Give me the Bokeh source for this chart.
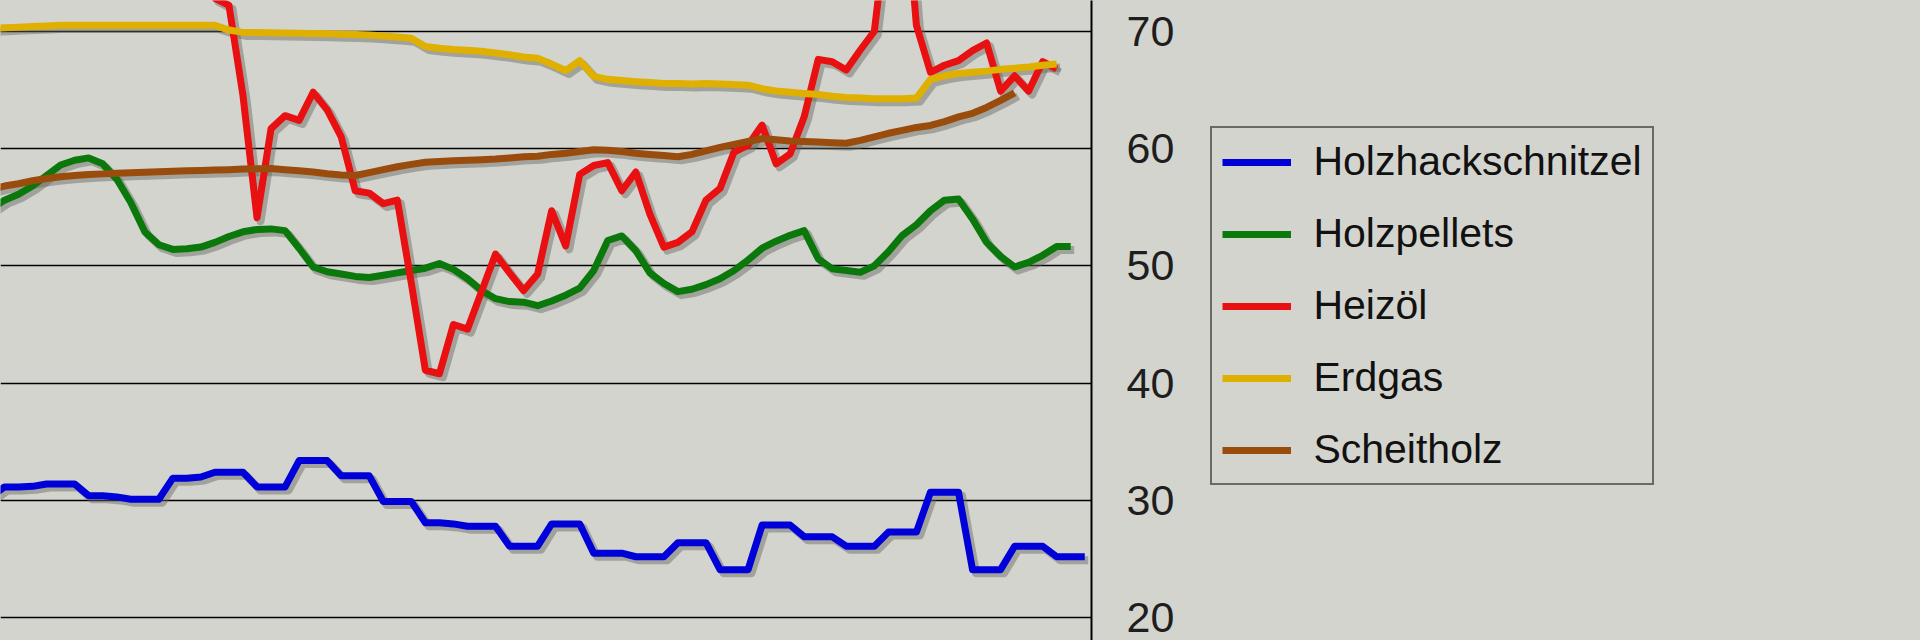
from bokeh.plotting import figure
from bokeh.models import Range1d, FixedTicker, Legend, LegendItem
from bokeh.embed import file_html
from bokeh.resources import INLINE

# month index (x positions), one point per month
blue_start = -1
blue_vals = [30.3,
             31.15, 31.15, 31.2, 31.4, 31.4, 31.4, 30.4, 30.4, 30.3, 30.1, 30.1, 30.1,
             31.9, 31.9, 32.0, 32.4, 32.4, 32.4, 31.15, 31.15, 31.15, 33.4, 33.4, 33.4,
             32.1, 32.1, 32.1, 29.9, 29.9, 29.9, 28.1, 28.1, 28.0, 27.8, 27.8, 27.8,
             26.1, 26.1, 26.1, 28.0, 28.0, 28.0, 25.5, 25.5, 25.5, 25.2, 25.2, 25.2,
             26.4, 26.4, 26.4, 24.1, 24.1, 24.1, 27.9, 27.9, 27.9, 26.9, 26.9, 26.9,
             26.1, 26.1, 26.1, 27.3, 27.3, 27.3, 30.7, 30.7, 30.7, 24.1, 24.1, 24.1,
             26.1, 26.1, 26.1, 25.2, 25.2, 25.2]

green_start = -1
green_vals = [54.8, 55.6, 56.1, 56.8, 57.7, 58.6, 59.0, 59.2, 58.7, 57.4, 55.4, 52.9,
              51.8, 51.4, 51.45, 51.6, 52.0, 52.5, 52.9, 53.1, 53.15, 53.0, 51.5, 49.9,
              49.5, 49.3, 49.1, 49.0, 49.2, 49.4, 49.6, 49.8, 50.2, 49.7, 48.9, 47.9,
              47.2, 46.95, 46.9, 46.6, 47.0, 47.5, 48.1, 49.6, 52.16, 52.55, 51.3, 49.4,
              48.5, 47.8, 48.0, 48.4, 48.9, 49.6, 50.5, 51.5, 52.1, 52.6, 53.0, 50.6,
              49.75, 49.6, 49.45, 50.0, 51.2, 52.6, 53.5, 54.7, 55.6, 55.7, 54.0, 52.0,
              50.8, 49.9, 50.3, 50.9, 51.65, 51.65]

gas_start = -1
gas_vals = [70.25, 70.3, 70.35, 70.4, 70.45, 70.5, 70.5, 70.5, 70.5, 70.5, 70.5, 70.5,
            70.5, 70.5, 70.5, 70.5, 70.5, 70.1, 69.9, 69.9, 69.88, 69.85, 69.82, 69.8,
            69.78, 69.75, 69.72, 69.68, 69.6, 69.5, 69.4, 68.7, 68.55, 68.45, 68.38, 68.3,
            68.15, 68.0, 67.8, 67.7, 67.2, 66.65, 67.5, 66.15, 65.9, 65.8, 65.7, 65.62,
            65.55, 65.55, 65.5, 65.55, 65.5, 65.45, 65.4, 65.1, 64.9, 64.8, 64.7, 64.6,
            64.45, 64.35, 64.3, 64.25, 64.25, 64.25, 64.3, 65.9, 66.2, 66.4, 66.5, 66.6,
            66.75, 66.85, 66.95, 67.1, 67.2]

wood_start = -1
wood_vals = [56.5, 56.8, 57.0, 57.25, 57.45, 57.6, 57.7, 57.78, 57.84, 57.9, 57.94, 57.98,
             58.02, 58.06, 58.1, 58.13, 58.17, 58.2, 58.25, 58.27, 58.3, 58.2, 58.1, 58.0,
             57.85, 57.75, 57.7, 57.95, 58.2, 58.45, 58.65, 58.83, 58.9, 58.95, 59.0, 59.05,
             59.1, 59.2, 59.3, 59.35, 59.5, 59.6, 59.75, 59.9, 59.85, 59.75, 59.6, 59.5,
             59.4, 59.3, 59.5, 59.8, 60.1, 60.35, 60.6, 60.85, 60.75, 60.65, 60.6, 60.55,
             60.5, 60.45, 60.7, 61.0, 61.3, 61.55, 61.8, 61.97, 62.3, 62.7, 63.0, 63.5,
             64.1, 64.75]

oil_start = 14
oil_vals = [75.0, 72.8, 72.2, 64.5, 54.1, 61.7, 62.8, 62.4, 64.8, 63.3, 61.0, 56.4,
            56.2, 55.3, 55.6, 48.5, 41.1, 40.8, 45.0, 44.6, 47.8, 51.0, 49.4, 47.9,
            49.3, 54.7, 51.7, 57.8, 58.55, 58.8, 56.4, 58.0, 54.4, 51.6, 52.0, 52.9,
            55.6, 56.6, 59.7, 60.3, 62.0, 58.7, 59.55, 62.7, 67.6, 67.4, 66.7, 68.4,
            70.0, 80.0, 85.0, 70.5, 66.5, 67.1, 67.5, 68.35, 69.0, 64.9, 66.2, 64.9,
            67.4, 66.8]

series_names = ["Holzhackschnitzel", "Holzpellets", "Heizöl", "Erdgas", "Scheitholz"]
series_colors = ["#0000d8", "#0b780b", "#e81010", "#e0b000", "#9a4c0c"]
series_data = [(blue_start, blue_vals), (green_start, green_vals), (oil_start, oil_vals),
               (gas_start, gas_vals), (wood_start, wood_vals)]
y_ticks = [20, 30, 40, 50, 60, 70]

BG = "#d4d4cf"

p = figure(frame_width=1091, frame_height=640, output_backend="svg", toolbar_location=None,
           x_range=Range1d(-0.285, 77.48), y_range=Range1d(18.06, 72.62),
           y_axis_location="right", x_axis_location=None,
           min_border_left=0, min_border_top=0, min_border_bottom=0, min_border_right=0)
p.background_fill_color = BG
p.border_fill_color = BG
p.outline_line_color = None

p.xgrid.visible = False
p.ygrid.grid_line_color = "black"
p.ygrid.grid_line_width = 1.6
p.ygrid.ticker = FixedTicker(ticks=y_ticks)

ax = p.yaxis[0]
ax.ticker = FixedTicker(ticks=y_ticks)
ax.axis_line_color = "black"
ax.axis_line_width = 2
ax.major_tick_out = 0
ax.major_tick_in = 0
ax.minor_tick_out = 0
ax.minor_tick_in = 0
ax.major_label_standoff = 35
ax.major_label_text_font = "Liberation Sans"
ax.major_label_text_font_size = "43px"
ax.major_label_text_color = "#1e1e1e"

# drop shadows: offset copies of the same series
sdx = 3.5 / 14.03
sdy = 3.5 / 11.73
for start, vals in series_data:
    xs = [start + i + sdx for i in range(len(vals))]
    ys = [v - sdy for v in vals]
    p.line(xs, ys, line_color="#66665e", line_alpha=0.45, line_width=8, line_join="round")

items = []
for name, color, (start, vals) in zip(series_names, series_colors, series_data):
    xs = [start + i for i in range(len(vals))]
    r = p.line(xs, vals, line_color=color, line_width=7, line_join="round")
    items.append(LegendItem(label=name, renderers=[r]))

legend = Legend(items=items, location=(-182, 155))
legend.label_text_font = "Liberation Sans"
legend.label_text_font_size = "41px"
legend.label_text_color = "#111111"
legend.glyph_width = 69
legend.glyph_height = 46
legend.label_height = 46
legend.spacing = 25
legend.padding = 10
legend.margin = 0
legend.label_standoff = 22
legend.border_line_color = "black"
legend.border_line_width = 2
legend.background_fill_color = BG
legend.background_fill_alpha = 1.0
p.add_layout(legend, "right")

html = file_html(p, INLINE)
html = html.replace("<head>", "<head><style>body{background:%s;}</style>" % BG, 1)
open("out.html", "w").write(html)
